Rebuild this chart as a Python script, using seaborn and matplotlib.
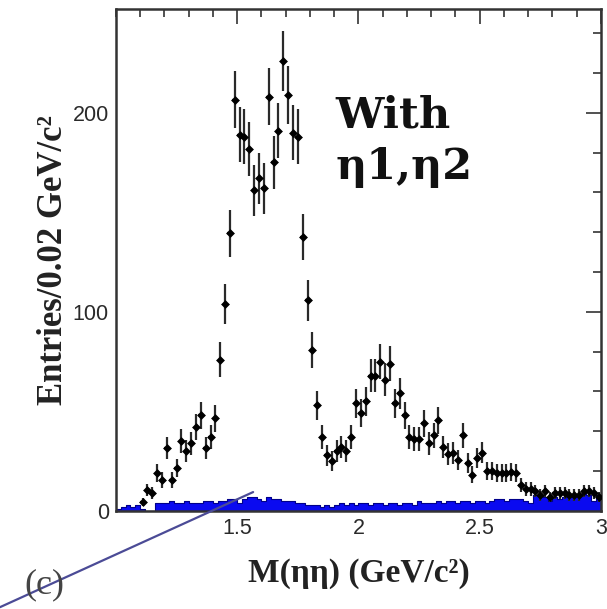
import numpy as np
import pandas as pd
import matplotlib
matplotlib.use("Agg")
import matplotlib.pyplot as plt
from matplotlib.lines import Line2D
from matplotlib.ticker import MultipleLocator
import seaborn as sns

# ---------------- data ----------------
bin_width = 0.02
data_start = 1.11
data_counts = [4.5, 10.5, 9, 19, 15.6, 31.6, 15.6, 21.6, 35, 30,
               34, 42, 48, 31.6, 37, 46.5, 76, 104, 139.5, 206.5,
               189, 188, 181.7, 161, 167, 162, 208, 175, 191, 226,
               209, 190, 188, 137.5, 105.7, 81, 53, 37.3, 28, 25,
               30, 32, 30, 37, 54, 49, 55, 68, 68, 75,
               66, 74, 54, 59, 48, 37, 36, 36, 44, 34,
               38, 45.5, 32, 28.6, 29, 25.6, 38, 24, 18.3, 26.5,
               29.3, 20, 20, 19, 19, 19, 19.7, 19, 13, 11,
               11, 10, 8, 10, 7, 9, 9, 9, 8, 8,
               8, 10, 10, 9, 7]

bkg_start = 1.01
bkg_counts = [1, 2, 3, 2, 3, 1, 0, 0, 4, 4,
              4, 5, 4, 4, 5, 4, 4, 4, 5, 5, 4, 5, 5, 6, 6,
              4, 6, 7, 7, 6, 5, 7, 6, 6, 5,
              5, 5, 4, 4, 3, 3, 3, 2, 3, 2,
              3, 4, 3, 4, 3, 4, 4, 3, 4, 4,
              3, 4, 4, 3, 4, 4, 3, 5, 4, 4,
              4, 5, 4, 5, 5, 4, 5, 5, 4, 5,
              5, 4, 5, 6, 6, 5, 6, 6, 6, 5,
              4, 8, 8, 7, 5, 7, 6, 7, 7, 8, 8, 9, 8, 5, 8]

x_ticks = [1.5, 2, 2.5, 3]
x_tick_labels = ["1.5", "2", "2.5", "3"]
y_ticks = [0, 100, 200]
y_tick_labels = ["0", "100", "200"]

# ---------------- frames ----------------
data_x = data_start + bin_width * np.arange(len(data_counts))
df_data = pd.DataFrame({"mass": data_x, "entries": data_counts})
df_data["err"] = np.sqrt(df_data["entries"])

bkg_x = bkg_start + bin_width * np.arange(len(bkg_counts))
df_bkg = pd.DataFrame({"mass": bkg_x, "entries": bkg_counts})

# ---------------- figure ----------------
sns.set_style("white")
fig = plt.figure(figsize=(6.07, 6.09), dpi=100)
ax = fig.add_axes([0.191, 0.161, 0.799, 0.824])

sns.histplot(data=df_bkg, x="mass", weights="entries", binwidth=bin_width,
             binrange=(bkg_start - bin_width / 2, 3.0),
             element="step", fill=True, color="#0a0af0", alpha=1.0,
             edgecolor="#00008b", linewidth=0.8, ax=ax)

ax.errorbar(df_data["mass"], df_data["entries"], yerr=df_data["err"],
            xerr=bin_width / 2, fmt="none", ecolor="#2a2a2a",
            elinewidth=1.6, capsize=0, zorder=3)
sns.scatterplot(data=df_data, x="mass", y="entries", marker="D", s=16,
                color="black", edgecolor="black", linewidth=0.5,
                ax=ax, zorder=4)

ax.set_xlim(1.0, 3.0)
ax.set_ylim(0, 252)
ax.set_xticks(x_ticks)
ax.set_xticklabels(x_tick_labels)
ax.set_yticks(y_ticks)
ax.set_yticklabels(y_tick_labels)
ax.xaxis.set_minor_locator(MultipleLocator(0.1))
ax.yaxis.set_minor_locator(MultipleLocator(20))
ax.tick_params(which="both", direction="in", top=True, right=True,
               color="#333333", width=1.2)
ax.tick_params(which="major", length=11, labelsize=15.5, pad=5,
               labelcolor="#2a2a2a")
ax.tick_params(which="minor", length=6)
for lab in ax.get_xticklabels() + ax.get_yticklabels():
    lab.set_family("Liberation Sans")
for sp in ax.spines.values():
    sp.set_color("#333333")
    sp.set_linewidth(1.8)

ax.set_xlabel("M(ηη) (GeV/c²)", fontsize=24, fontweight="bold",
              family="Liberation Serif", color="#222222", labelpad=14)
ax.set_ylabel("Entries/0.02 GeV/c²", fontsize=25, fontweight="bold",
              family="Liberation Serif", color="#222222", labelpad=2)

ax.text(0.452, 0.83, "With\nη1,η2", transform=ax.transAxes, ha="left",
        va="top", fontsize=31, fontweight="bold", family="DejaVu Serif",
        color="#111111", linespacing=1.3)

fig.text(0.04, 0.04, "(c)", fontsize=26, family="Liberation Serif",
         color="#444444", va="center")
fig.add_artist(Line2D([0.0, 0.417], [0.003, 0.192], transform=fig.transFigure,
                      color="#4b4b96", linewidth=1.6))

fig.savefig("out.png", dpi=100)
